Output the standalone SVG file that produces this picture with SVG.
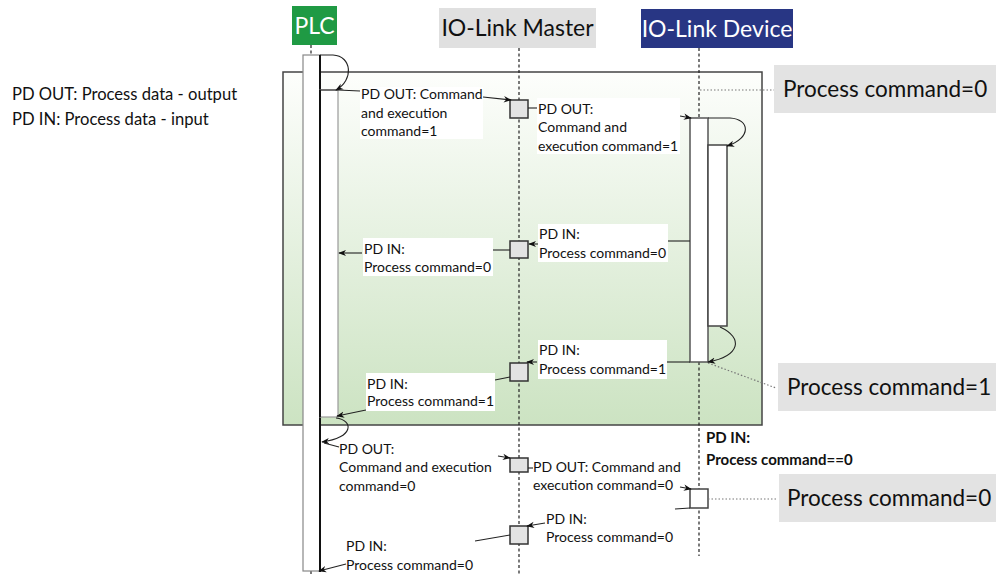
<svg xmlns="http://www.w3.org/2000/svg" width="996" height="576" viewBox="0 0 996 576">
<defs>
<linearGradient id="grn" x1="0" y1="0" x2="0" y2="1">
<stop offset="0" stop-color="#fdfefc"/>
<stop offset="1" stop-color="#cce3c2"/>
</linearGradient>
<marker id="ah" viewBox="0 0 10 10" refX="9" refY="5" markerWidth="8" markerHeight="8" markerUnits="userSpaceOnUse" orient="auto">
<path d="M0,1 L10,5 L0,9 L3,5 Z" fill="#111"/>
</marker>
</defs>
<style>
text{font-family:Lato,"Open Sans","Liberation Sans",sans-serif;fill:#111}
.lbl{font-size:14px}
.bold{font-size:15px;font-weight:bold}
.big{font-size:22.5px}
.hdr{font-size:23px}
.leg{font-size:16.6px}
.bx{fill:#fff;stroke:none}
.ll{stroke:#222;stroke-width:1.2;stroke-dasharray:3,2.5;fill:none}
.dot{stroke:#777;stroke-width:1.2;stroke-dasharray:1.5,2;fill:none}
.c{stroke:#222;stroke-width:1.1;fill:none}
.ca{stroke:#222;stroke-width:1.1;fill:none;marker-end:url(#ah)}
.mbox{fill:#e3e3e3;stroke:#333;stroke-width:1.5}
.bar{fill:#fff}
.gbox{fill:#e3e3e3}
</style>
<rect width="996" height="576" fill="#fff"/>

<g id="legend">
<text class="leg" x="12" y="100">PD OUT: Process data - output</text>
<text class="leg" x="12" y="125">PD IN: Process data - input</text>
</g>

<g id="frame">
<rect x="283" y="72" width="479" height="353" fill="url(#grn)" stroke="#444" stroke-width="1.5"/>
</g>

<g id="lifelines">
<line class="ll" x1="311" y1="45" x2="311" y2="56"/>
<line class="ll" x1="311" y1="571" x2="311" y2="576"/>
<line class="ll" x1="519" y1="48" x2="519" y2="576"/>
<line class="ll" x1="699" y1="48" x2="699" y2="118"/>
<line class="ll" x1="699" y1="362" x2="699" y2="556"/>
</g>

<g id="plc">
<rect x="292" y="6" width="45" height="39" fill="#1f9a44"/>
<text class="hdr" x="314.5" y="34" text-anchor="middle" style="fill:#fff">PLC</text>
<rect class="bar" x="303" y="55" width="17" height="516" stroke="#888" stroke-width="1.2"/>
<line x1="320" y1="55" x2="320" y2="572" stroke="#111" stroke-width="2"/>
<rect class="bar" x="320" y="90" width="18" height="327" stroke="#999" stroke-width="1.2"/>
<line x1="320" y1="90" x2="320" y2="417" stroke="#111" stroke-width="2"/>
</g>

<g id="master">
<rect x="439" y="8" width="157" height="40" fill="#e0e0e0"/>
<text class="hdr" x="517.5" y="36" text-anchor="middle">IO-Link Master</text>
<rect class="mbox" x="510" y="100" width="18" height="18"/>
<rect class="mbox" x="510" y="241" width="18" height="17"/>
<rect class="mbox" x="510" y="363" width="18" height="18"/>
<rect class="mbox" x="510" y="458" width="18" height="14"/>
<rect class="mbox" x="510" y="526" width="18" height="18"/>
</g>

<g id="device">
<rect x="641" y="9" width="152" height="39" fill="#283684"/>
<text class="hdr" x="717" y="37" text-anchor="middle" style="fill:#fff">IO-Link Device</text>
<rect class="bar" x="690" y="118" width="18" height="244" stroke="#555" stroke-width="1.5"/>
<rect class="bar" x="708" y="145" width="19" height="181" stroke="#444" stroke-width="1.5"/>
<rect x="690" y="489" width="18" height="19" fill="#fff" stroke="#444" stroke-width="1.5"/>
</g>

<g id="notes">
<rect class="gbox" x="774" y="65" width="222" height="48"/>
<text class="big" x="783" y="97">Process command=0</text>
<rect class="gbox" x="778" y="363" width="218" height="48"/>
<text class="big" x="787" y="395">Process command=1</text>
<rect class="gbox" x="779" y="474" width="217" height="48"/>
<text class="big" x="787" y="506">Process command=0</text>
</g>

<g id="connectors">
<line class="dot" x1="700" y1="90" x2="774" y2="90"/>
<line class="dot" x1="708" y1="363" x2="776" y2="388"/>
<line class="dot" x1="708" y1="499" x2="778" y2="499"/>
<path class="ca" d="M320,55 L333,55 C352,56 354,80 336,90"/>
<path class="c" d="M320,90 L338,90 L360,91"/>
<path class="ca" d="M483,97 L511,100"/>
<path class="c" d="M528,108 L537,108"/>
<path class="ca" d="M680,116 L691,118"/>
<path class="ca" d="M708,118 L730,118 C750,119 752,138 727,146"/>
<path class="c" d="M690,241 L667,241"/>
<path class="ca" d="M538,244 L529,244"/>
<path class="c" d="M510,250 L493,250"/>
<path class="ca" d="M362,253 L339,253"/>
<path class="ca" d="M720,327 C744,338 740,356 708,362"/>
<path class="c" d="M690,362 L667,362"/>
<path class="ca" d="M537,362 L527,362"/>
<path class="c" d="M510,377 L495,380"/>
<path class="ca" d="M366,410 L337,416"/>
<path class="ca" d="M336,418 C354,420 354,438 322,442"/>
<path class="c" d="M324,443 L339,447"/>
<path class="ca" d="M498,456 L510,458"/>
<path class="c" d="M528,468 L533,468"/>
<path class="ca" d="M680,487 L691,489"/>
<path class="c" d="M675,509 L690,508"/>
<path class="ca" d="M545,523 L527,526"/>
<path class="c" d="M510,535 L475,541"/>
<path class="ca" d="M346,564 L319,571"/>
</g>

<g id="labels">
<rect class="bx" x="360" y="87" width="123" height="52"/>
<text class="lbl" x="361" y="99">PD OUT: Command</text>
<text class="lbl" x="361" y="118">and execution</text>
<text class="lbl" x="361" y="136">command=1</text>

<rect class="bx" x="537" y="98" width="143" height="56"/>
<text class="lbl" x="538" y="114">PD OUT:</text>
<text class="lbl" x="538" y="132">Command and</text>
<text class="lbl" x="538" y="151">execution command=1</text>

<rect class="bx" x="538" y="224" width="130" height="38"/>
<text class="lbl" x="539" y="239">PD IN:</text>
<text class="lbl" x="539" y="258">Process command=0</text>

<rect class="bx" x="363" y="238" width="130" height="38"/>
<text class="lbl" x="364" y="254">PD IN:</text>
<text class="lbl" x="364" y="272">Process command=0</text>

<rect class="bx" x="538" y="340" width="129" height="39"/>
<text class="lbl" x="539" y="355">PD IN:</text>
<text class="lbl" x="539" y="374">Process command=1</text>

<rect class="bx" x="366" y="373" width="129" height="38"/>
<text class="lbl" x="367" y="389">PD IN:</text>
<text class="lbl" x="367" y="406">Process command=1</text>

<text class="lbl" x="339" y="454">PD OUT:</text>
<text class="lbl" x="339" y="472">Command and execution</text>
<text class="lbl" x="339" y="491">command=0</text>

<text class="lbl" x="533" y="472">PD OUT: Command and</text>
<text class="lbl" x="533" y="490">execution command=0</text>

<text class="bold" x="706" y="443">PD IN:</text>
<text class="bold" x="706" y="465">Process command==0</text>

<text class="lbl" x="546" y="524">PD IN:</text>
<text class="lbl" x="546" y="542">Process command=0</text>

<text class="lbl" x="346" y="551">PD IN:</text>
<text class="lbl" x="346" y="570">Process command=0</text>
</g>
</svg>
